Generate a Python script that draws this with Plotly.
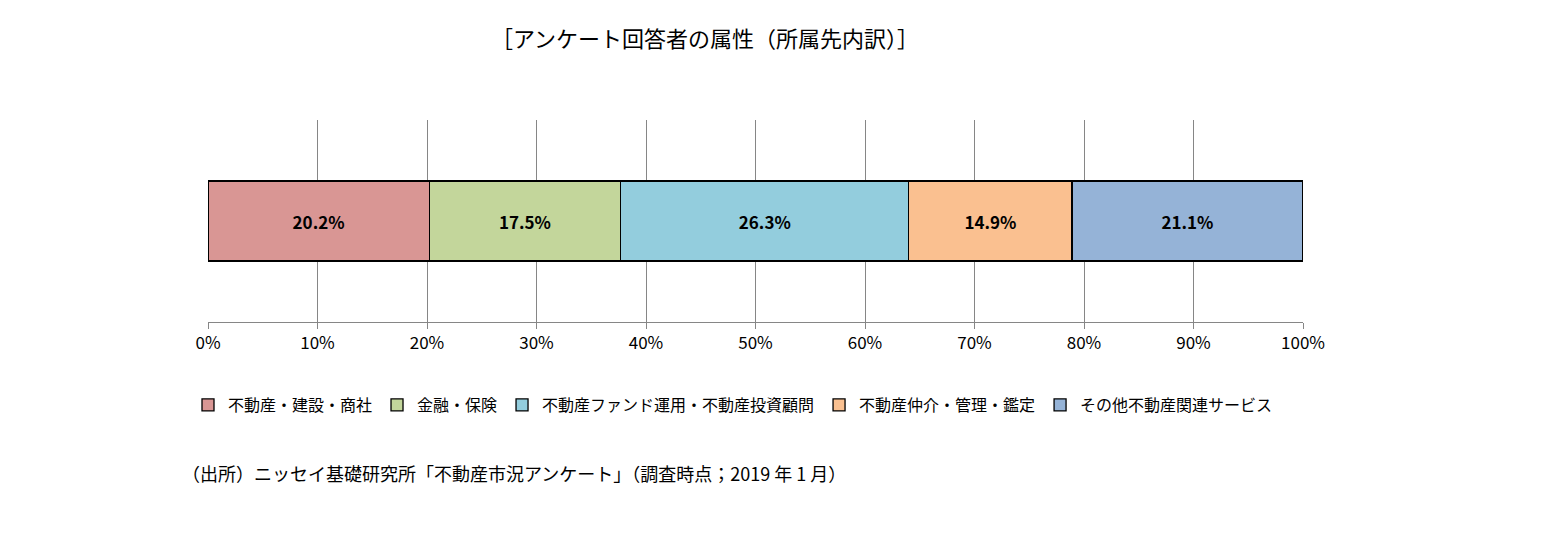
import plotly.graph_objects as go

categories = ["不動産・建設・商社", "金融・保険", "不動産ファンド運用・不動産投資顧問",
              "不動産仲介・管理・鑑定", "その他不動産関連サービス"]
shares = [20.2, 17.5, 26.3, 14.9, 21.1]
colors = ["#D99694", "#C3D69B", "#93CDDD", "#FAC090", "#95B3D7"]
tick_vals = [0, 10, 20, 30, 40, 50, 60, 70, 80, 90, 100]
tick_text = [f"{v}%" for v in tick_vals]

font = "Noto Sans CJK JP"
L, R, T, B = 200, 253, 112, 222
pw, ph = 1548 - L - R, 536 - T - B


def px(x):
    return (x - L) / pw


def py(y):
    return 1 - (y - T) / ph


fig = go.Figure()
for name, v, c in zip(categories, shares, colors):
    fig.add_trace(go.Bar(
        x=[v], y=[0], orientation="h", name=name,
        marker=dict(color=c, line=dict(color="black", width=1.3)),
        width=0.79, text=[f"{v:.1f}%"], textposition="inside",
        insidetextanchor="middle",
        textfont=dict(family=font, size=17, color="black", weight="bold"),
    ))

fig.update_layout(
    barmode="stack", width=1548, height=536,
    paper_bgcolor="white", plot_bgcolor="white",
    margin=dict(l=L, r=R, t=T, b=B),
    font=dict(family=font, color="black"),
    xaxis=dict(range=[0, 100], tickvals=tick_vals, ticktext=tick_text,
               showgrid=True, gridcolor="#868686", gridwidth=1,
               zeroline=False, ticks="outside", ticklen=6, tickcolor="#868686",
               tickfont=dict(size=17), showline=True, linecolor="#868686"),
    yaxis=dict(range=[-1, 1], visible=False),
    showlegend=True,
    legend=dict(orientation="h", x=px(180), xanchor="left",
                y=py(397), yanchor="middle", font=dict(size=16),
                itemwidth=30, traceorder="normal"),
    annotations=[
        dict(text="［アンケート回答者の属性（所属先内訳）］", x=px(697), y=py(29),
             xref="paper", yref="paper", yanchor="middle", showarrow=False,
             font=dict(size=22)),
        dict(text="（出所）ニッセイ基礎研究所「不動産市況アンケート」（調査時点；2019 年 1 月）",
             x=px(172), y=py(465), xref="paper", yref="paper", xanchor="left",
             yanchor="middle", showarrow=False, font=dict(size=18)),
    ],
)
fig.write_html("out.html")
